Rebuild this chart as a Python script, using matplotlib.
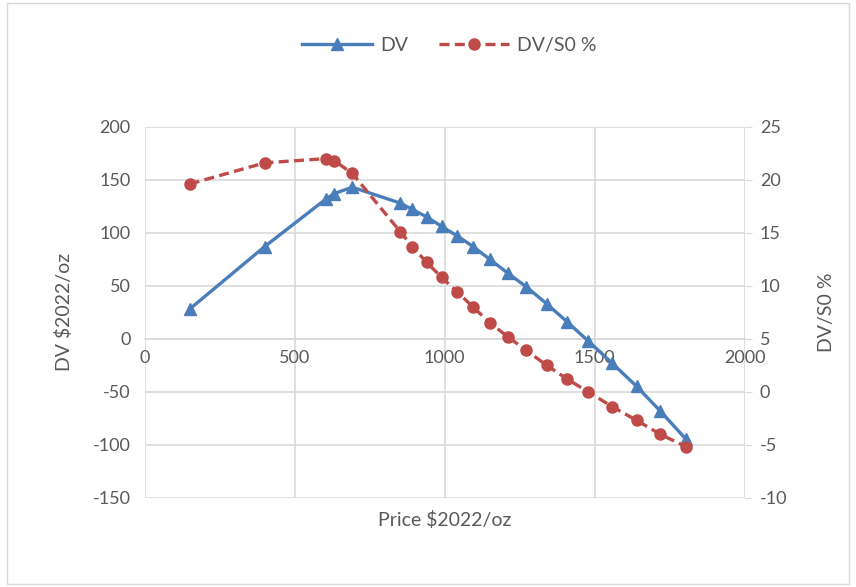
import numpy as np
import matplotlib.pyplot as plt
from matplotlib.patches import Rectangle

price = [150, 400, 605, 632, 692, 852, 892, 940, 990, 1042, 1095, 1150, 1210,
         1272, 1340, 1408, 1478, 1558, 1640, 1718, 1805]
dv = [28, 87, 132, 137, 143, 128, 122, 115, 106, 97, 87, 75, 62,
      49, 33, 16, -2, -23, -45, -68, -95]
dv_s0 = [19.6, 21.6, 22.0, 21.8, 20.6, 15.1, 13.7, 12.2, 10.8, 9.4, 8.0, 6.5, 5.2,
         3.9, 2.5, 1.2, 0.0, -1.4, -2.7, -4.0, -5.2]

blue = '#4a7ebb'
red = '#be4b48'
grey = '#d9d9d9'
txt = '#595959'

plt.rcParams['font.family'] = ['Lato', 'DejaVu Sans']
plt.rcParams['axes.unicode_minus'] = False

fig = plt.figure(figsize=(8.56, 5.87), dpi=100)
fig.patches.append(Rectangle((0.008, 0.005), 0.984, 0.99, transform=fig.transFigure,
                             fill=False, edgecolor=grey, linewidth=1))
ax = fig.add_axes([0.169, 0.152, 0.701, 0.632])
ax2 = ax.twinx()

l1, = ax.plot(price, dv, color=blue, lw=2.4, marker='^', ms=9, zorder=3)
l2, = ax2.plot(price, dv_s0, color=red, lw=2.4, ls=(0, (3, 1.6)), marker='o', ms=8, zorder=3)

ax.set_xlim(0, 2000)
ax.set_ylim(-150, 200)
ax.set_xticks(np.arange(0, 2001, 500))
ax.set_yticks(np.arange(-150, 201, 50))
ax2.set_ylim(-10, 25)
ax2.set_yticks(np.arange(-10, 26, 5))

ax.grid(True, color=grey, lw=1.2)
ax.set_axisbelow(True)
for a in (ax, ax2):
    for s in a.spines.values():
        s.set_visible(False)
ax.spines['bottom'].set_visible(True)
ax.spines['bottom'].set_position(('data', 0))
ax.spines['bottom'].set_color(grey)
ax.spines['bottom'].set_linewidth(1.2)

ax.tick_params(axis='x', length=0, pad=8, labelsize=13, labelcolor=txt)
ax.tick_params(axis='y', length=0, pad=10, labelsize=13, labelcolor=txt)
ax2.tick_params(axis='y', length=5, color=grey, pad=6, labelsize=13, labelcolor=txt)

ax.set_ylabel('DV $2022/oz', fontsize=14, color=txt, labelpad=14)
ax2.set_ylabel('DV/S0 %', fontsize=14, color=txt, labelpad=22)
ax.set_xlabel('Price $2022/oz', fontsize=14, color=txt)
ax.xaxis.set_label_coords(0.5, -0.035)

fig.legend([l1, l2], ['DV', 'DV/S0 %'], loc='center', bbox_to_anchor=(0.525, 0.922),
           ncol=2, frameon=False, fontsize=14, labelcolor=txt, handlelength=3.6,
           handletextpad=0.4, columnspacing=1.6, numpoints=1)

fig.savefig('out.png')
